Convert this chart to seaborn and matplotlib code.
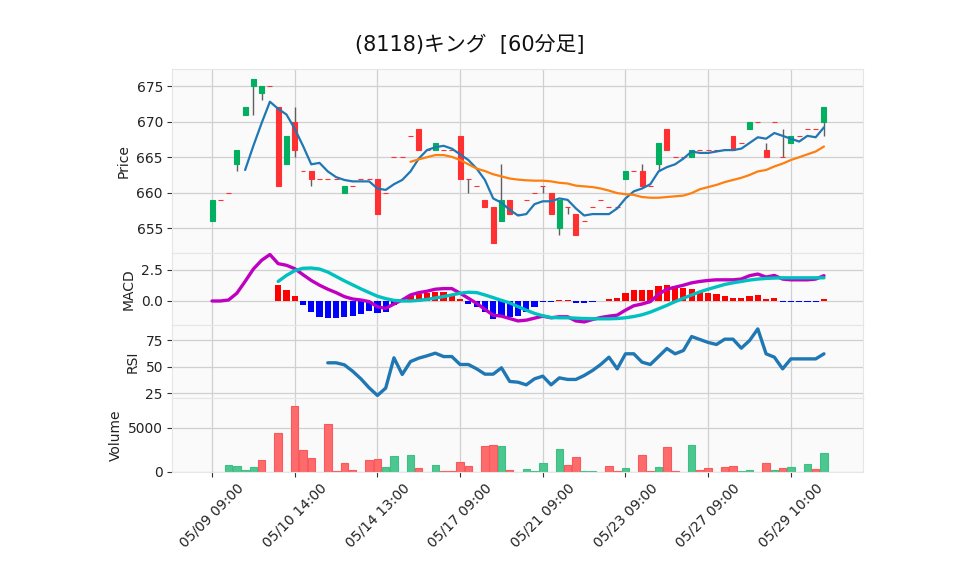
import numpy as np
import pandas as pd
import matplotlib
matplotlib.use("Agg")
import matplotlib.pyplot as plt
import seaborn as sns

# ---------------- data ----------------
title_text = "(8118)キング  [60分足]"
tick_labels = ["05/09 09:00", "05/10 14:00", "05/14 13:00", "05/17 09:00",
               "05/21 09:00", "05/23 09:00", "05/27 09:00", "05/29 10:00"]
tick_positions = [0, 10, 20, 30, 40, 50, 60, 70]

opens = [656, 659, 660, 664, 671, 675, 674, 675, 672, 664,
         670, 663, 663, 662, 662, 662, 660, 661, 662, 662,
         662, 660, 665, 665, 668, 669, 666, 666, 666, 666,
         668, 662, 661, 659, 658, 656, 659, 657, 659, 660,
         661, 660, 655, 658, 657, 656, 658, 659, 658, 658,
         662, 663, 663, 661, 664, 669, 665, 665, 665, 666,
         666, 666, 666, 668, 667, 669, 670, 666, 670, 665,
         667, 668, 669, 669, 670]
closes = [659, 659, 660, 666, 672, 676, 675, 675, 661, 668,
          666, 663, 662, 662, 662, 662, 661, 661, 662, 662,
          657, 660, 665, 665, 668, 666, 666, 667, 666, 666,
          662, 662, 661, 658, 653, 659, 657, 657, 659, 660,
          661, 657, 659, 658, 654, 656, 658, 659, 658, 658,
          663, 663, 661, 661, 667, 666, 665, 665, 666, 666,
          666, 666, 666, 666, 667, 670, 670, 665, 670, 665,
          668, 668, 669, 669, 672]
highs = [659, 659, 660, 666, 672, 676, 675, 675, 672, 668,
         672, 663, 663, 662, 662, 662, 661, 661, 662, 662,
         662, 660, 665, 665, 668, 669, 666, 667, 666, 666,
         668, 662, 661, 659, 658, 664, 659, 657, 659, 660,
         661, 660, 659, 658, 657, 656, 658, 659, 658, 658,
         663, 663, 664, 661, 667, 669, 665, 665, 666, 666,
         666, 666, 666, 668, 667, 670, 670, 667, 670, 669,
         668, 668, 669, 669, 672]
lows = [656, 659, 660, 663, 671, 671, 673, 675, 661, 664,
        665, 663, 661, 662, 662, 662, 660, 661, 662, 662,
        657, 660, 665, 665, 668, 666, 666, 666, 666, 666,
        662, 660, 661, 658, 653, 656, 657, 657, 659, 660,
        660, 657, 654, 657, 654, 656, 658, 659, 658, 658,
        662, 663, 661, 661, 663, 666, 665, 665, 665, 666,
        666, 666, 666, 666, 667, 669, 670, 665, 670, 665,
        667, 668, 669, 669, 668]
volumes = [0, 0, 784, 672, 224, 560, 1306, 0, 4440, 0,
           7463, 2425, 1567, 0, 5448, 75, 970, 187, 0, 1306,
           1418, 522, 1754, 0, 1866, 448, 0, 746, 75, 75,
           1082, 634, 0, 2910, 3022, 2910, 224, 0, 336, 112,
           1007, 0, 2575, 784, 1679, 112, 112, 0, 672, 112,
           448, 0, 1903, 112, 560, 2799, 112, 0, 3022, 224,
           448, 0, 560, 672, 112, 224, 0, 1007, 224, 448,
           560, 0, 896, 336, 2127]

nan = np.nan
sma5 = [nan, nan, nan, nan, 663.2, 666.6, 669.8, 672.8, 671.8, 671.0,
        669.0, 666.6, 664.0, 664.2, 663.0, 662.2, 661.8, 661.6, 661.6, 661.6,
        660.6, 660.4, 661.2, 661.8, 663.0, 664.8, 666.0, 666.4, 666.6, 666.2,
        665.4, 664.6, 663.4, 661.8, 659.2, 658.6, 657.6, 656.8, 657.0, 658.4,
        658.8, 658.8, 659.2, 659.0, 657.8, 656.8, 657.0, 657.0, 657.0, 657.8,
        659.2, 660.2, 660.6, 661.2, 663.0, 663.6, 664.0, 664.8, 665.8, 665.6,
        665.6, 665.8, 666.0, 666.0, 666.2, 667.0, 667.8, 667.6, 668.4, 668.0,
        667.6, 667.2, 668.0, 667.8, 669.2]
sma25 = [nan] * 24 + [
    664.35, 664.7, 665.0, 665.3, 665.3, 665.05,
    664.6, 664.0, 663.4, 663.05, 662.6, 662.3, 662.0, 661.85, 661.75, 661.7,
    661.7, 661.6, 661.4, 661.3, 661.0, 660.9, 660.8, 660.6, 660.3, 659.95,
    659.8, 659.7, 659.4, 659.3, 659.3, 659.4, 659.5, 659.6, 659.95, 660.5,
    660.8, 661.1, 661.5, 661.8, 662.1, 662.5, 663.0, 663.2, 663.7, 664.1,
    664.6, 665.0, 665.4, 665.8, 666.5]

macd = [0.0, 0.0, 0.08, 0.62, 1.56, 2.55, 3.25, 3.71, 2.98, 2.85,
        2.58, 2.10, 1.64, 1.26, 0.94, 0.67, 0.35, 0.16, 0.08, -0.05,
        -0.46, -0.59, -0.24, 0.08, 0.48, 0.67, 0.78, 0.94, 0.99, 0.99,
        0.62, 0.22, -0.19, -0.67, -1.13, -1.21, -1.40, -1.59, -1.53, -1.37,
        -1.21, -1.34, -1.26, -1.26, -1.59, -1.67, -1.48, -1.32, -1.21, -1.13,
        -0.73, -0.38, -0.24, -0.05, 0.54, 0.94, 1.10, 1.26, 1.45, 1.56,
        1.64, 1.69, 1.69, 1.69, 1.75, 2.02, 2.15, 1.91, 2.04, 1.75,
        1.69, 1.69, 1.69, 1.75, 2.02]
signal = [nan] * 8 + [
    1.56, 2.04,
    2.42, 2.61, 2.63, 2.55, 2.31, 1.96, 1.61, 1.29, 0.97, 0.67,
    0.38, 0.19, 0.05, 0.0, 0.0, 0.05, 0.13, 0.24, 0.35, 0.48,
    0.62, 0.70, 0.67, 0.48, 0.27, 0.05, -0.15, -0.45, -0.73, -0.99,
    -1.18, -1.32, -1.34, -1.34, -1.37, -1.40, -1.42, -1.42, -1.42, -1.40,
    -1.34, -1.24, -1.10, -0.89, -0.62, -0.35, -0.05, 0.22, 0.48, 0.73,
    0.94, 1.13, 1.32, 1.45, 1.56, 1.67, 1.75, 1.80, 1.83, 1.85,
    1.85, 1.85, 1.85, 1.85, 1.85]
hist = [nan] * 8 + [
    1.29, 0.89,
    0.40, -0.32, -0.89, -1.26, -1.34, -1.34, -1.26, -1.18, -1.05, -0.81,
    -0.94, -0.86, -0.29, 0.08, 0.43, 0.54, 0.67, 0.75, 0.75, 0.54,
    0.13, -0.24, -0.46, -0.86, -1.40, -1.26, -1.24, -1.18, -0.86, -0.46,
    -0.05, -0.05, 0.05, 0.05, -0.13, -0.19, -0.10, 0.03, 0.13, 0.22,
    0.62, 0.86, 0.86, 0.86, 1.21, 1.29, 1.16, 1.02, 0.94, 0.75,
    0.67, 0.56, 0.40, 0.24, 0.22, 0.40, 0.48, 0.16, 0.22, -0.05,
    -0.05, -0.10, -0.05, -0.05, 0.13]
rsi = [nan] * 14 + [
    53.8, 53.8, 51.9, 45.9, 38.7, 30.2,
    23.0, 29.9, 58.5, 42.8, 55.0, 58.2, 60.4, 62.9, 59.7, 59.7,
    52.2, 52.2, 48.1, 43.1, 43.1, 49.1, 36.2, 35.5, 33.0, 38.7,
    41.2, 33.0, 39.6, 38.1, 38.1, 41.8, 46.5, 52.2, 59.1, 48.1,
    62.3, 62.3, 54.4, 52.2, 59.7, 67.3, 62.3, 65.4, 78.6, 75.8,
    73.0, 71.1, 76.1, 76.1, 67.6, 74.8, 85.8, 62.3, 59.1, 48.1,
    57.5, 57.5, 57.5, 57.5, 62.3]

# ---------------- styling ----------------
sns.set_theme(style="whitegrid")
plt.rcParams["font.family"] = ["DejaVu Sans", "Noto Sans CJK JP"]
plt.rcParams["axes.unicode_minus"] = False

UP, DOWN = "#00b060", "#fe3032"
VUP, VDOWN = "#4dc790", "#fd6b6c"
VUP_E, VDOWN_E = "#3fbf85", "#f85a5b"
GRID = "#d0d0d0"
FACE = "#fafafa"
TXT = "#222222"

df = pd.DataFrame({"i": np.arange(len(closes)), "o": opens, "c": closes,
                   "h": highs, "l": lows, "v": volumes, "sma5": sma5,
                   "sma25": sma25, "macd": macd, "signal": signal,
                   "histv": hist, "rsi": rsi})

W, H = 958, 575
fig = plt.figure(figsize=(W / 100, H / 100), dpi=100)
fig.patch.set_facecolor("white")

L, R = 172, 863


def make_ax(top, bottom):
    ax = fig.add_axes([L / W, 1 - bottom / H, (R - L) / W, (bottom - top) / H])
    ax.set_facecolor(FACE)
    for s in ax.spines.values():
        s.set_color("#e6e6e6")
        s.set_linewidth(0.8)
    ax.grid(True, color=GRID, linewidth=0.9)
    ax.set_axisbelow(True)
    ax.set_xlim(-4.84, 78.72)
    ax.set_xticks(tick_positions)
    ax.tick_params(axis="y", left=True, length=3.5, width=0.8, color="#333333",
                   labelsize=10, labelcolor=TXT, pad=3)
    ax.tick_params(axis="x", bottom=False, labelbottom=False)
    return ax


ax_p = make_ax(69, 252.5)
ax_m = make_ax(252.5, 325.3)
ax_r = make_ax(325.3, 398.3)
ax_v = make_ax(398.3, 472)

# ---- price panel ----
ccols = [UP if c > o else DOWN for o, c in zip(df["o"], df["c"])]
ax_p.vlines(df["i"], df["l"], df["h"], color="#606060", linewidth=1.0, zorder=2)
ax_p.bar(df["i"], df["c"] - df["o"], bottom=df["o"], width=0.6, color=ccols,
         edgecolor=ccols, linewidth=0.8, zorder=3)
sns.lineplot(data=df, x="i", y="sma5", ax=ax_p, color="#1f77b4",
             linewidth=1.6, legend=False, zorder=4)
sns.lineplot(data=df, x="i", y="sma25", ax=ax_p, color="#ff7f0e",
             linewidth=1.6, legend=False, zorder=4)
ax_p.set_ylim(651.6, 677.4)
ax_p.set_yticks([655, 660, 665, 670, 675])
ax_p.set_ylabel("Price", fontsize=10, color=TXT)
ax_p.set_xlabel("")

# ---- MACD panel ----
hd = df.dropna(subset=["histv"])
hcols = ["#ff0000" if v >= 0 else "#0000ff" for v in hd["histv"]]
ax_m.bar(hd["i"], hd["histv"], width=0.75, color=hcols, linewidth=0, zorder=2)
sns.lineplot(data=df, x="i", y="macd", ax=ax_m, color="#c000c0",
             linewidth=2.4, legend=False, zorder=3)
sns.lineplot(data=df, x="i", y="signal", ax=ax_m, color="#00c0c0",
             linewidth=2.4, legend=False, zorder=4)
ax_m.set_ylim(-1.94, 3.87)
ax_m.set_yticks([0.0, 2.5])
ax_m.set_yticklabels(["0.0", "2.5"])
ax_m.set_ylabel("MACD", fontsize=10, color=TXT)
ax_m.set_xlabel("")

# ---- RSI panel ----
sns.lineplot(data=df, x="i", y="rsi", ax=ax_r, color="#1f77b4",
             linewidth=2.4, legend=False, zorder=3)
ax_r.set_ylim(20.3, 89.2)
ax_r.set_yticks([25, 50, 75])
ax_r.set_ylabel("RSI", fontsize=10, color=TXT)
ax_r.set_xlabel("")

# ---- Volume panel ----
prev = [None] + list(df["c"][:-1])
vcols, vedges = [], []
for o, c, p in zip(df["o"], df["c"], prev):
    up = (o < c) if p is None else (c > p)
    vcols.append(VUP if up else VDOWN)
    vedges.append(VUP_E if up else VDOWN_E)
vd = df.assign(col=vcols, edge=vedges)
vd = vd[vd["v"] > 0]
ax_v.bar(vd["i"], vd["v"], width=0.9, color=list(vd["col"]),
         edgecolor=list(vd["edge"]), linewidth=0.8, zorder=2)
ax_v.set_ylim(-50, 8350)
ax_v.set_yticks([0, 5000])
ax_v.set_ylabel("Volume", fontsize=10, color=TXT)
ax_v.set_xlabel("")
ax_v.tick_params(axis="x", bottom=True, labelbottom=True, length=3.5,
                 width=0.8, color="#333333", labelsize=10, labelcolor=TXT, pad=3)
ax_v.set_xticklabels(tick_labels, rotation=45, ha="center")

fig.text(469.5 / W, 1 - 45 / H, title_text, ha="center", va="center",
         fontsize=15, color="#111111")

fig.savefig("out.png", dpi=100, facecolor="white")
